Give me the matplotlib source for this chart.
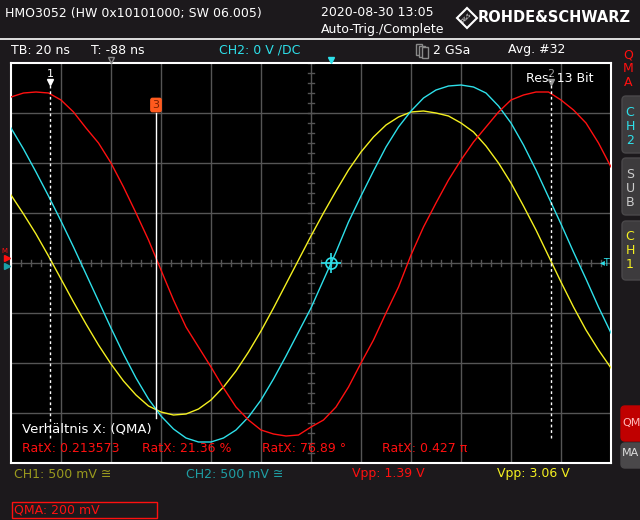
import matplotlib
matplotlib.use("Agg")
import matplotlib.pyplot as plt
from matplotlib.patches import Rectangle, FancyBboxPatch, Polygon

# sample times in ns relative to the screen centre (quarter-division steps)
time_ns = [-120, -115, -110, -105, -100, -95, -90, -85, -80, -75, -70, -65, -60,
           -55, -50, -45, -40, -35, -30, -25, -20, -15, -10, -5, 0,
           5, 10, 15, 20, 25, 30, 35, 40, 45, 50, 55, 60,
           65, 70, 75, 80, 85, 90, 95, 100, 105, 110, 115, 120]

# CH1 (yellow), volts
ch1_volts = [0.68, 0.49, 0.29, 0.07, -0.16, -0.39, -0.61, -0.82, -1.01, -1.18, -1.32, -1.43, -1.49,
             -1.52, -1.51, -1.46, -1.37, -1.24, -1.08, -0.89, -0.68, -0.45, -0.21, 0.03, 0.27,
             0.50, 0.72, 0.93, 1.11, 1.26, 1.38, 1.46, 1.51, 1.52, 1.50, 1.47, 1.40,
             1.31, 1.17, 1.00, 0.80, 0.57, 0.33, 0.07, -0.19, -0.44, -0.67, -0.87, -1.05]
# CH2 (cyan), volts
ch2_volts = [1.35, 1.14, 0.91, 0.67, 0.42, 0.16, -0.11, -0.38, -0.65, -0.91, -1.15, -1.36, -1.53,
             -1.66, -1.75, -1.79, -1.79, -1.75, -1.67, -1.54, -1.37, -1.16, -0.93, -0.69, -0.45,
             -0.17, 0.11, 0.41, 0.67, 0.92, 1.16, 1.36, 1.52, 1.65, 1.73, 1.77, 1.78,
             1.76, 1.70, 1.57, 1.40, 1.18, 0.93, 0.66, 0.39, 0.11, -0.16, -0.44, -0.70]
# QMA math trace (red), volts
qma_volts = [0.664, 0.680, 0.684, 0.680, 0.652, 0.604, 0.540, 0.480, 0.400, 0.304, 0.200, 0.092, -0.028,
             -0.148, -0.256, -0.336, -0.416, -0.500, -0.576, -0.628, -0.668, -0.684, -0.692, -0.688, -0.656,
             -0.628, -0.576, -0.496, -0.400, -0.308, -0.200, -0.096, 0.032, 0.144, 0.240, 0.332, 0.412,
             0.484, 0.544, 0.604, 0.652, 0.672, 0.684, 0.684, 0.652, 0.612, 0.560, 0.480, 0.384]

ch1_scale = 0.5   # V/div
ch2_scale = 0.5
qma_scale = 0.2

cursor_times = [-104.4, 96.0]
marker3_time = -62.0
circle_time = 8.0

BG = "#1c191c"
RED = "#ff1010"
CYAN = "#2ee0ea"
YELLOW = "#f4f020"
GRID = "#555555"

plt.rcParams["font.family"] = ["DejaVu Sans"]

fig = plt.figure(figsize=(6.4, 5.2), dpi=100)
fig.patch.set_facecolor(BG)

# screen area: 600x400 px, 12 x 8 divisions
ax = fig.add_axes([11 / 640, 57 / 520, 600 / 640, 400 / 520])
ax.set_facecolor("black")
ax.set_xlim(-120, 120)
ax.set_ylim(-4, 4)
ax.set_xticks([])
ax.set_yticks([])
for s in ax.spines.values():
    s.set_color("white")
    s.set_linewidth(1.5)

for x in range(-100, 120, 20):
    ax.axvline(x, color=GRID, lw=1, zorder=1)
for y in range(-3, 4):
    ax.axhline(y, color=GRID, lw=1, zorder=1)
# fine ticks on the centre cross
for k in range(-30, 31):
    ax.plot([k * 4, k * 4], [-0.06, 0.06], color=GRID, lw=1, zorder=1)
for k in range(-20, 21):
    ax.plot([-1.2, 1.2], [k * 0.2, k * 0.2], color=GRID, lw=1, zorder=1)

ax.plot(time_ns, [v / ch1_scale for v in ch1_volts], color=YELLOW, lw=1, zorder=3)
ax.plot(time_ns, [v / ch2_scale for v in ch2_volts], color=CYAN, lw=1, zorder=3)
ax.plot(time_ns, [v / qma_scale for v in qma_volts], color=RED, lw=1, zorder=4)

# cursors
for i, t in enumerate(cursor_times):
    col = "white" if i == 0 else "#999999"
    ax.plot([t, t], [-3.5, 3.56], color="white", lw=1, ls=(0, (2, 2)), zorder=5)
    ax.plot(t, 3.62, marker="v", color=col, ms=4, zorder=2)
    ax.text(t, 3.78, str(i + 1), color=col, fontsize=8, ha="center", va="center", zorder=2)
ax.plot([marker3_time, marker3_time], [-3.1, 3.0], color="white", lw=1, zorder=5)
ax.text(marker3_time, 3.16, "3", color="#7a2000", fontsize=8, ha="center", va="center",
        zorder=6, bbox=dict(boxstyle="round,pad=0.15", fc="#ff5a1e", ec="#ff5a1e"))
ax.plot(circle_time, 0, marker="o", mfc="none", mec=CYAN, ms=8, mew=1.2, zorder=6)
ax.plot(circle_time, 0, marker="+", color=CYAN, ms=14, mew=1.2, zorder=6)

# overlay in pixel coordinates for the instrument chrome
ov = fig.add_axes([0, 0, 1, 1], facecolor="none")
ov.set_xlim(0, 640)
ov.set_ylim(520, 0)
ov.axis("off")
ov.set_zorder(5)

fs = 9
ov.plot([0, 640], [39, 39], color="white", lw=1.2)
ov.text(5, 13, "HMO3052 (HW 0x10101000; SW 06.005)", color="white", fontsize=fs, va="center")
ov.text(321, 13, "2020-08-30 13:05", color="white", fontsize=fs, va="center")
ov.text(321, 30, "Auto-Trig./Complete", color="white", fontsize=fs, va="center")
ov.add_patch(Polygon([[467, 8], [477, 18], [467, 28], [457, 18]], closed=True,
                     fc="none", ec="white", lw=1.5))
ov.text(467, 18, "R&S", color="white", fontsize=4, ha="center", va="center", rotation=45)
ov.text(478, 18, "ROHDE&SCHWARZ", color="white", fontsize=10.5, fontweight="bold", va="center")

ov.text(11, 50, "TB: 20 ns", color="white", fontsize=fs, va="center")
ov.text(91, 50, "T: -88 ns", color="white", fontsize=fs, va="center")
ov.text(219, 50, "CH2: 0 V /DC", color=CYAN, fontsize=fs, va="center")
for dx in (0, 3, 6):
    ov.add_patch(Rectangle((416 + dx, 44 + dx / 2), 6, 11, fc=BG, ec="#8a8a8a", lw=1))
ov.text(433, 50, "2 GSa", color="white", fontsize=fs, va="center")
ov.text(508, 50, "Avg. #32", color="white", fontsize=fs, va="center")
ov.plot([111], [60], marker="v", mfc="none", mec="#888888", ms=5)
ov.plot([331], [60], marker="v", color=CYAN, ms=4)

ov.text(526, 79, "Res: 13 Bit", color="white", fontsize=fs, va="center")
ov.text(611, 263, "◂T", color=CYAN, fontsize=7, ha="right", va="center")
ov.text(1, 251, "M", color=RED, fontsize=5, va="center")
ov.plot([7], [258], marker=">", color=RED, ms=5)
ov.plot([7], [266], marker=">", color="#1aa0a8", ms=5)

ov.text(22, 429, "Verhältnis X: (QMA)", color="white", fontsize=9.5, va="center")
for x, s in zip([22, 142, 262, 382],
                ["RatX: 0.213573", "RatX: 21.36 %", "RatX: 76.89 °", "RatX: 0.427 π"]):
    ov.text(x, 449, s, color=RED, fontsize=fs, va="center")

ov.text(14, 474, "CH1: 500 mV ≅", color="#9a9a1e", fontsize=fs, va="center")
ov.text(186, 474, "CH2: 500 mV ≅", color="#1f9ea4", fontsize=fs, va="center")
ov.text(352, 474, "Vpp: 1.39 V", color=RED, fontsize=fs, va="center")
ov.text(497, 474, "Vpp: 3.06 V", color=YELLOW, fontsize=fs, va="center")
ov.add_patch(Rectangle((12, 502), 145, 16, fc="none", ec=RED, lw=1))
ov.text(14, 510, "QMA: 200 mV", color=RED, fontsize=fs, va="center")

# right-hand soft keys
for i, ch in enumerate("QMA"):
    ov.text(628, 55 + 14 * i, ch, color=RED, fontsize=fs, ha="center", va="center")
keys = [(96, 153, "CH2", CYAN), (158, 215, "SUB", "#cccccc"), (221, 280, "CH1", YELLOW)]
for y0, y1, label, col in keys:
    ov.add_patch(FancyBboxPatch((622, y0), 30, y1 - y0, boxstyle="round,pad=0,rounding_size=4",
                                fc="#3d3b3d", ec="#4a484a", lw=1))
    for j, ch in enumerate(label):
        ov.text(630, y0 + 16 + 14 * j, ch, color=col, fontsize=fs, ha="center", va="center")
ov.add_patch(FancyBboxPatch((621, 406), 30, 35, boxstyle="round,pad=0,rounding_size=4",
                            fc="#c00000", ec="#c00000", lw=1))
ov.text(622, 423, "QM", color="#ffbbbb", fontsize=8, va="center")
ov.add_patch(FancyBboxPatch((621, 443), 30, 25, boxstyle="round,pad=0,rounding_size=4",
                            fc="#4a484a", ec="#4a484a", lw=1))
ov.text(622, 453, "MA", color="#dddddd", fontsize=8, va="center")

fig.savefig("out.png", dpi=100, facecolor=BG)
